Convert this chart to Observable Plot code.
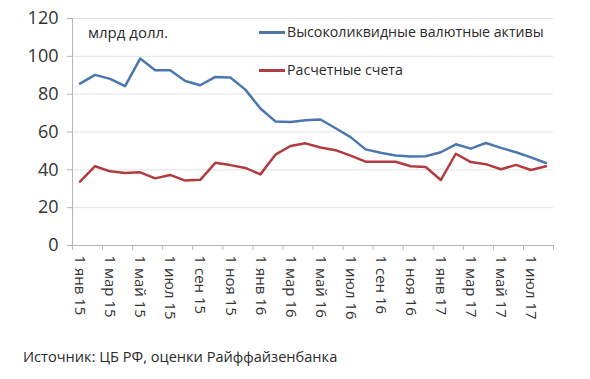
<!DOCTYPE html>
<html>
<head>
<meta charset="utf-8">
<script src="https://cdn.jsdelivr.net/npm/d3@7"></script>
<script src="https://cdn.jsdelivr.net/npm/@observablehq/plot@0.6"></script>
<style>
  html, body { margin: 0; padding: 0; background: #fff; }
  body { width: 590px; height: 379px; position: relative; overflow: hidden; font-family: "Open Sans", sans-serif; color: #333; }
  #chart { position: absolute; left: 0; top: 0; }
  .lbl { position: absolute; font-size: 15px; white-space: nowrap; line-height: 18px; color: #2a2a2a; }
  .sw { display: inline-block; width: 26px; height: 3px; vertical-align: middle; margin-right: 2px; position: relative; top: -1px; }
</style>
</head>
<body>
<div id="chart"></div>
<div class="lbl" style="left:88px; top:23px;">млрд долл.</div>
<div class="lbl" id="leg1" style="left:259px; top:23px; font-size:14.2px;"></div>
<div class="lbl" id="leg2" style="left:259px; top:61px; font-size:14.2px;"></div>
<div class="lbl" style="left:23px; top:347px; font-size:14.6px;">Источник: ЦБ РФ, оценки Райффайзенбанка</div>
<script>
// Months Jan 2015 – Aug 2017
const monthNames = ["янв","фев","мар","апр","май","июн","июл","авг","сен","окт","ноя","дек"];
const startYear = 15;
const nMonths = 32;
const seriesNames = ["Высоколиквидные валютные активы", "Расчетные счета"];
const seriesColors = ["#4a77ad", "#b23b3f"];
const liquidAssets = [85.6, 90.2, 88.1, 84.2, 98.8, 92.6, 92.6, 87.0, 84.7, 89.1, 88.8, 82.4, 72.4, 65.6, 65.3, 66.2, 66.6, 62.0, 57.3, 50.8, 49.0, 47.6, 47.1, 47.2, 49.3, 53.5, 51.2, 54.2, 51.6, 49.3, 46.6, 43.6];
const currentAccounts = [33.8, 41.9, 39.2, 38.3, 38.7, 35.5, 37.3, 34.3, 34.7, 43.7, 42.5, 41.0, 37.6, 48.0, 52.6, 54.0, 51.8, 50.4, 47.5, 44.3, 44.3, 44.3, 41.9, 41.5, 34.6, 48.5, 44.1, 43.0, 40.3, 42.6, 39.9, 41.9];
const yTicks = [0, 20, 40, 60, 80, 100, 120];

const monthLabel = i => "1 " + monthNames[i % 12] + " " + (startYear + Math.floor(i / 12));
const rows = [];
liquidAssets.forEach((v, i) => rows.push({i: i + 0.5, v, s: seriesNames[0]}));
currentAccounts.forEach((v, i) => rows.push({i: i + 0.5, v, s: seriesNames[1]}));
const boundaries = d3.range(0, nMonths + 1, 2);
const labelIdx = d3.range(0, nMonths, 2);

const chart = Plot.plot({
  width: 590,
  height: 340,
  marginLeft: 72,
  marginRight: 37,
  marginTop: 18,
  marginBottom: 95,
  style: {fontFamily: "Open Sans, sans-serif", background: "#fff"},
  x: {domain: [0, nMonths], axis: null},
  y: {domain: [0, 120], axis: null},
  color: {domain: seriesNames, range: seriesColors},
  marks: [
    Plot.gridY(yTicks, {stroke: "#e2e2e2", strokeOpacity: 1}),
    Plot.ruleX([0], {stroke: "#b5b5b5"}),
    Plot.axisY(yTicks, {label: null, tickSize: 5, tickPadding: 9, fontSize: 18, stroke: "#b5b5b5", fill: "#333", tickFormat: d => String(d)}),
    Plot.ruleY([0], {stroke: "#b5b5b5"}),
    Plot.axisX(boundaries, {label: null, tickSize: 5, stroke: "#b5b5b5", tickFormat: () => ""}),
    Plot.text(labelIdx, {x: d => d + 0.5, y: () => 0, text: d => monthLabel(d), rotate: 90, textAnchor: "start", lineAnchor: "middle", dy: 10, fontSize: 15, fill: "#333"}),
    Plot.line(rows, {x: "i", y: "v", z: "s", stroke: "s", strokeWidth: 2.5, curve: "linear"})
  ]
});
document.getElementById("chart").appendChild(chart);

["leg1", "leg2"].forEach((id, k) => {
  const el = document.getElementById(id);
  const sw = document.createElement("span");
  sw.className = "sw";
  sw.style.background = seriesColors[k];
  el.appendChild(sw);
  el.appendChild(document.createTextNode(seriesNames[k]));
});
</script>
</body>
</html>
